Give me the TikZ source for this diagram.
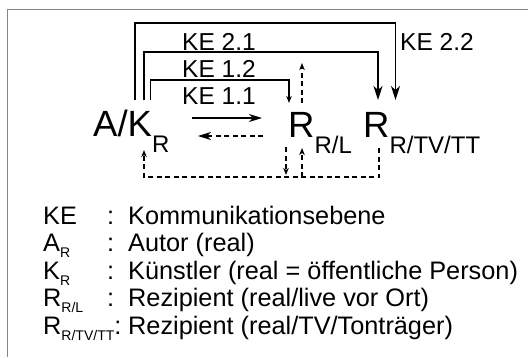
\documentclass[tikz,border=0pt]{standalone}
\usepackage{fontspec}
\setmainfont{Liberation Sans}
\usetikzlibrary{arrows.meta}
\newcommand{\msub}[1]{\raisebox{-16pt}{\fontsize{24}{24}\selectfont #1}}
\newcommand{\lsub}[1]{\raisebox{-6pt}{\fontsize{14}{14}\selectfont #1}}
\begin{document}
\begin{tikzpicture}[x=1pt,y=-1pt,
  lbl/.style={inner sep=0pt, anchor=base west, font=\fontsize{36.5}{40}\selectfont},
  kel/.style={inner sep=0pt, anchor=west, font=\fontsize{24.5}{26}\selectfont},
  leg/.style={inner sep=0pt, anchor=base west, font=\fontsize{25.3}{27}\selectfont},
  frame/.style={draw=black!48, line width=1.8pt},
  bigarr/.style={line width=1.4pt, -{Stealth[length=14pt,width=9pt,inset=4pt]}},
  midarr/.style={line width=1.4pt, -{Stealth[length=13pt,width=8pt,inset=4pt]}},
  smallarr/.style={line width=1.1pt, -{Stealth[length=7pt,width=5.5pt,inset=2pt]}},
  dsh/.style={line width=1.3pt, dash pattern=on 5pt off 3.5pt}]
\useasboundingbox (0,0) rectangle (529,357);
\draw[frame] (7.5,357) -- (7.5,9.5) -- (528,9.5);

% main nodes
\node[lbl] (ak) at (93,136) {A/K\msub{R}};
\node[lbl] (rl) at (288,137) {R\msub{R/L}};
\node[lbl] (rt) at (363,137) {R\msub{R/TV/TT}};

% labels
\node[kel] (ke21) at (182,42) {KE 2.1};
\node[kel] (ke12) at (182,68.5) {KE 1.2};
\node[kel] (ke11) at (182,96.5) {KE 1.1};
\node[kel] (ke22) at (400,42) {KE 2.2};

% attachment points
\coordinate (a22) at (135,100);
\coordinate (a21) at (144,100);
\coordinate (a12) at (150.7,100);
\coordinate (t22) at (395.5,100);
\coordinate (t21) at (378,100);
\coordinate (t12) at (289,103);
\coordinate (rlup0) at (302,103);
\coordinate (rlup1) at (302,63);
\coordinate (h1s) at (192,118);
\coordinate (h1e) at (262,118);
\coordinate (h2s) at (263,136);
\coordinate (h2e) at (198,136);
\coordinate (rtb) at (379,148);
\coordinate (akb) at (144,150);
\coordinate (rld0) at (286,147);
\coordinate (rld1) at (286,175);
\coordinate (rlu0) at (302,177);
\coordinate (rlu1) at (302,148);

% top connectors
\draw[bigarr] (a22) -- ++(0,-77) -| (t22);
\draw[bigarr] (a21) -- ++(0,-48) -| (t21);
\draw[smallarr] (a12) -- ++(0,-20) -| (t12);
\draw[smallarr, dsh] (rlup0) -- (rlup1);

% horizontal
\draw[midarr] (h1s) -- (h1e);
\draw[midarr, dsh] (h2s) -- (h2e);

% bottom loop
\draw[smallarr, dsh] (rtb) -- ++(0,29) -| (akb);
\draw[smallarr, dsh] (rld0) -- (rld1);
\draw[smallarr, dsh] (rlu0) -- (rlu1);

% legend
\node[leg] (l1a) at (43,224) {KE};
\node[leg] (l1b) at (107,224) {:};
\node[leg] (l1c) at (128,224) {Kommunikationsebene};
\node[leg] (l2a) at (43,251.5) {A\lsub{R}};
\node[leg] (l2b) at (107,251.5) {:};
\node[leg] (l2c) at (128,251.5) {Autor (real)};
\node[leg] (l3a) at (43,279) {K\lsub{R}};
\node[leg] (l3b) at (107,279) {:};
\node[leg] (l3c) at (128,279) {Künstler (real = öffentliche Person)};
\node[leg] (l4a) at (43,306.5) {R\lsub{R/L}};
\node[leg] (l4b) at (107,306.5) {:};
\node[leg] (l4c) at (128,306.5) {Rezipient (real/live vor Ort)};
\node[leg] (l5a) at (43,334) {R\lsub{R/TV/TT}:};
\node[leg] (l5c) at (128,334) {Rezipient (real/TV/Tonträger)};
\end{tikzpicture}
\end{document}
